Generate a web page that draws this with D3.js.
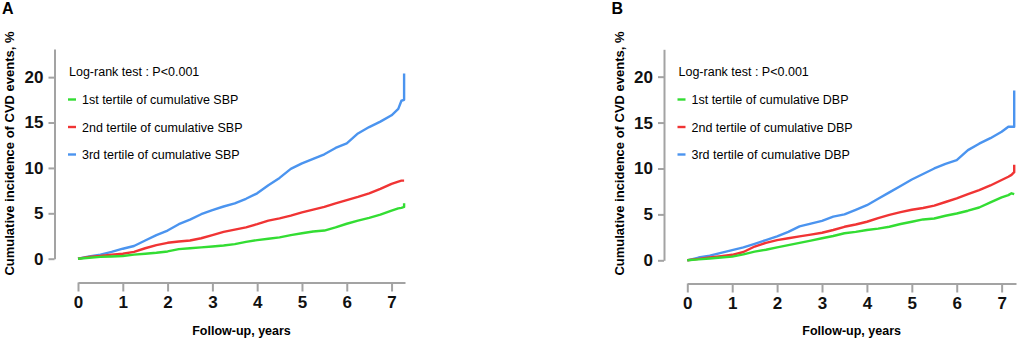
<!DOCTYPE html>
<html>
<head>
<meta charset="utf-8">
<script src="https://cdn.jsdelivr.net/npm/d3@7"></script>
<style>
  body { margin: 0; background: #fff; }
  svg { display: block; font-family: "Liberation Sans", Arial, sans-serif; }
</style>
</head>
<body>
<div id="container"></div>
<script>
// DATA ###############################
const timeYears = [0, 0.25, 0.5, 0.75, 1, 1.25, 1.5, 1.75, 2, 2.25, 2.5, 2.75, 3, 3.25, 3.5, 3.75,
  4, 4.25, 4.5, 4.75, 5, 5.25, 5.5, 5.75, 6, 6.25, 6.5, 6.75, 7, 7.15, 7.22, 7.28, 7.28];

const xTicks = [0, 1, 2, 3, 4, 5, 6, 7];
const yTicks = [0, 5, 10, 15, 20];

// panel A - cumulative SBP tertiles (%)
const sbpT1 = [0, 0.1, 0.2, 0.25, 0.3, 0.45, 0.55, 0.65, 0.8, 1.05, 1.15, 1.25, 1.35, 1.45, 1.6, 1.85,
  2.05, 2.2, 2.35, 2.6, 2.8, 3.0, 3.1, 3.45, 3.85, 4.2, 4.5, 4.85, 5.3, 5.55, 5.6, 5.7, 6.1];
const sbpT2 = [0, 0.2, 0.3, 0.45, 0.55, 0.75, 1.15, 1.5, 1.75, 1.9, 2.0, 2.25, 2.6, 2.95, 3.2, 3.45,
  3.8, 4.2, 4.45, 4.75, 5.1, 5.4, 5.7, 6.1, 6.45, 6.8, 7.2, 7.7, 8.25, 8.5, 8.6, 8.6, 8.6];
const sbpT3 = [0, 0.25, 0.45, 0.75, 1.1, 1.4, 2.0, 2.6, 3.1, 3.8, 4.3, 4.9, 5.35, 5.75, 6.1, 6.6,
  7.2, 8.1, 8.9, 9.9, 10.5, 11.0, 11.5, 12.2, 12.7, 13.8, 14.5, 15.1, 15.8, 16.5, 17.4, 17.5, 20.4];

// panel B - cumulative DBP tertiles (%)
const dbpT1 = [0, 0.1, 0.2, 0.3, 0.4, 0.65, 0.95, 1.15, 1.4, 1.65, 1.9, 2.15, 2.4, 2.65, 2.95, 3.1,
  3.3, 3.45, 3.65, 3.95, 4.2, 4.45, 4.55, 4.85, 5.1, 5.4, 5.75, 6.3, 6.85, 7.1, 7.3, 7.2, 7.2];
const dbpT2 = [0, 0.15, 0.3, 0.45, 0.6, 0.9, 1.5, 1.9, 2.2, 2.4, 2.6, 2.8, 3.0, 3.3, 3.65, 3.9,
  4.2, 4.6, 4.95, 5.25, 5.5, 5.7, 5.95, 6.35, 6.75, 7.2, 7.65, 8.15, 8.75, 9.1, 9.3, 9.6, 10.4];
const dbpT3 = [0, 0.3, 0.5, 0.8, 1.1, 1.4, 1.8, 2.2, 2.6, 3.1, 3.7, 4.0, 4.3, 4.75, 5.0, 5.5,
  6.0, 6.7, 7.4, 8.1, 8.8, 9.4, 10.0, 10.5, 10.9, 12.0, 12.7, 13.3, 14.0, 14.55, 14.55, 14.55, 18.5];

const tertileNames = ["1st", "2nd", "3rd"];
const tertileColors = ["#33dd33", "#f03434", "#4b94ef"];

// LAYOUT ###############################
const width = 1021, height = 344;

const panels = [
  { letter: "A", measure: "SBP", series: [sbpT1, sbpT2, sbpT3],
    yAxisX: 54.5, x0: 78, x1: 405, xMax: 7.3, y0: 258.7, y1: 49, yMax: 23.1, xAxisY: 282.5 },
  { letter: "B", measure: "DBP", series: [dbpT1, dbpT2, dbpT3],
    yAxisX: 664, x0: 687.3, x1: 1016, xMax: 7.32, y0: 260.3, y1: 49.3, yMax: 22.98, xAxisY: 283.5 }
];

const svg = d3.select("#container")
  .append("svg")
  .attr("width", width)
  .attr("height", height);

panels.forEach(drawPanel);

// DRAW PANEL ###############################
function drawPanel(p) {
  const g = svg.append("g");
  const off = p.yAxisX - 54.5;

  const xScale = d3.scaleLinear().domain([0, p.xMax]).range([p.x0, p.x1]);
  const yScale = d3.scaleLinear().domain([0, p.yMax]).range([p.y0, p.y1]);

  // y axis
  const yAxis = g.append("g")
    .attr("transform", `translate(${p.yAxisX},0)`)
    .call(d3.axisLeft(yScale).tickValues(yTicks).tickSize(6).tickSizeOuter(0).tickPadding(5));
  // x axis
  const xAxis = g.append("g")
    .attr("transform", `translate(0,${p.xAxisY})`)
    .call(d3.axisBottom(xScale).tickValues(xTicks).tickSize(9).tickSizeOuter(0).tickPadding(4));

  [yAxis, xAxis].forEach(ax => {
    ax.select(".domain").attr("stroke", "#a3a3a3").attr("stroke-width", 2);
    ax.selectAll(".tick line").attr("stroke", "#a3a3a3").attr("stroke-width", 2);
    ax.selectAll(".tick text")
      .attr("fill", "#111")
      .style("font-size", "17px")
      .style("font-weight", "bold")
      .style("font-family", "'Liberation Sans', Arial, sans-serif");
  });

  // curves
  const line = d3.line()
    .x(d => xScale(d[0]))
    .y(d => yScale(d[1]));

  [2, 1, 0].forEach(i => {
    const pts = timeYears.map((t, k) => [t, p.series[i][k]]);
    g.append("path")
      .datum(pts)
      .attr("fill", "none")
      .attr("stroke", tertileColors[i])
      .attr("stroke-width", 2.4)
      .attr("stroke-linejoin", "round")
      .attr("d", line);
  });

  // panel letter
  g.append("text")
    .attr("x", 2 + off)
    .attr("y", 14)
    .style("font-size", "16px")
    .style("font-weight", "bold")
    .text(p.letter);

  // axis titles
  g.append("text")
    .attr("transform", `translate(${14 + off},153.5) rotate(-90)`)
    .attr("text-anchor", "middle")
    .style("font-size", "13px")
    .style("font-weight", "bold")
    .text("Cumulative incidence of CVD events, %");

  g.append("text")
    .attr("x", (p.x0 + p.x1) / 2)
    .attr("y", 335)
    .attr("text-anchor", "middle")
    .style("font-size", "12.5px")
    .style("font-weight", "bold")
    .text("Follow-up, years");

  // legend
  const lx = p.yAxisX + 14.5;
  g.append("text")
    .attr("x", lx)
    .attr("y", 76)
    .style("font-size", "12.5px")
    .text("Log-rank test : P<0.001");

  tertileNames.forEach((name, i) => {
    const ly = 99.5 + i * 27.5;
    g.append("line")
      .attr("x1", lx - 1).attr("x2", lx + 7)
      .attr("y1", ly).attr("y2", ly)
      .attr("stroke", tertileColors[i])
      .attr("stroke-width", 2.4);
    g.append("text")
      .attr("x", lx + 13)
      .attr("y", ly + 4.5)
      .style("font-size", "12.5px")
      .text(`${name} tertile of cumulative ${p.measure}`);
  });
}
</script>
</body>
</html>
